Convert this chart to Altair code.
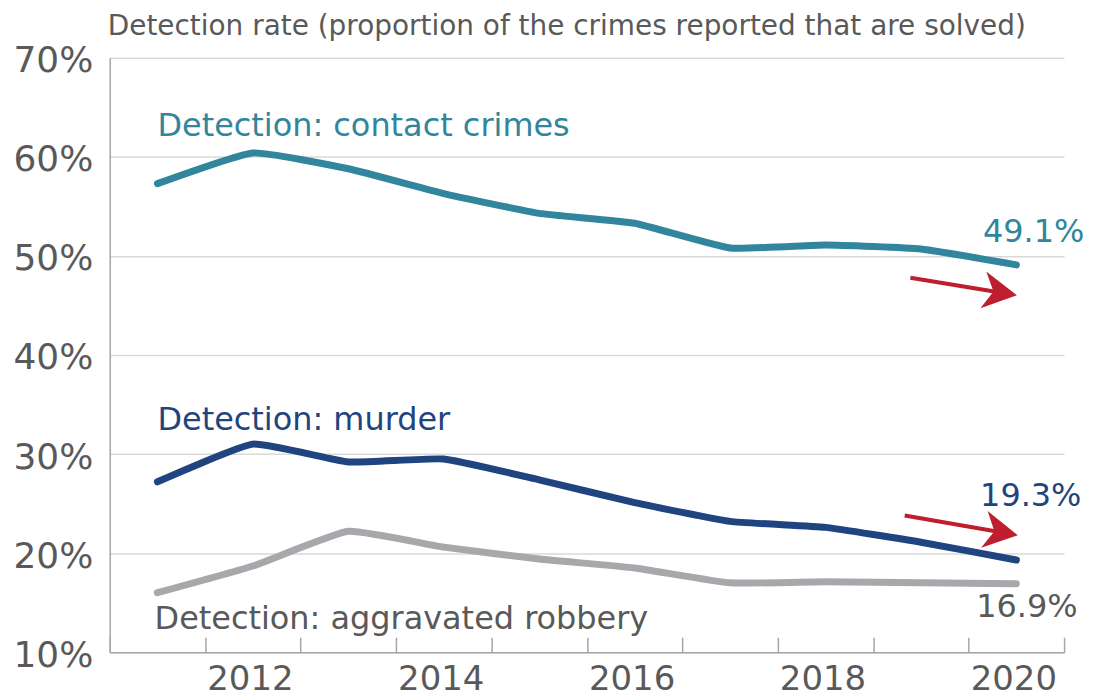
import altair as alt
import pandas as pd

# ---- data ----
years = list(range(2011, 2021))
contact = [57.3, 60.4, 58.8, 56.3, 54.3, 53.3, 50.8, 51.1, 50.7, 49.1]
murder = [27.2, 31.0, 29.2, 29.5, 27.4, 25.1, 23.2, 22.6, 21.1, 19.3]
robbery = [16.0, 18.7, 22.2, 20.6, 19.4, 18.5, 17.0, 17.1, 17.0, 16.9]

series_names = ["robbery", "murder", "contact"]
series_colors = ["#A6A8AB", "#1F4480", "#31859C"]

label_years = [2012, 2014, 2016, 2018, 2020]
tick_positions = [2010.5 + i for i in range(11)]
y_ticks = [10, 20, 30, 40, 50, 60, 70]

ann_text = ["Detection: contact crimes", "Detection: murder",
            "Detection: aggravated robbery", "49.1%", "19.3%", "16.9%"]
ann_x = [2011.0, 2011.0, 2010.97, 2019.65, 2019.62, 2019.58]
ann_y = [62.1, 32.4, 12.3, 51.4, 24.8, 13.5]
ann_color = ["#31859C", "#1F4480", "#595959", "#31859C", "#1F4480", "#595959"]

arrow_x0 = [2018.89, 2018.83]
arrow_y0 = [47.8, 23.8]
arrow_x1 = [2019.83, 2019.84]
arrow_y1 = [46.3, 22.1]
arrow_angle = [9, 10]

TITLE = "Detection rate (proportion of the crimes reported that are solved)"
FONT = "DejaVu Sans"
GRAY_TEXT = "#595959"
RED = "#BE1E2D"

# ---- tables ----
rows = []
for name, vals in zip(["contact", "murder", "robbery"], [contact, murder, robbery]):
    for yr, v in zip(years, vals):
        rows.append({"year": yr, "value": v, "series": name})
df = pd.DataFrame(rows)

ann_df = pd.DataFrame({"text": ann_text, "x": ann_x, "y": ann_y, "color": ann_color})
arrow_df = pd.DataFrame({"x0": arrow_x0, "y0": arrow_y0, "x1": arrow_x1,
                         "y1": arrow_y1, "angle": arrow_angle})

x_scale = alt.Scale(domain=[2010.5, 2020.5], nice=False, zero=False)
y_scale = alt.Scale(domain=[10, 70], nice=False, zero=False)

lines = alt.Chart(df).mark_line(
    strokeWidth=7, strokeCap="round", strokeJoin="round",
    interpolate="cardinal", tension=0.6
).encode(
    x=alt.X("year:Q", scale=x_scale, axis=alt.Axis(
        values=label_years, format="d", title=None, tickSize=0, ticks=False,
        labelPadding=10, labelFontSize=34, labelColor=GRAY_TEXT, labelFont=FONT,
        labelOffset=-3, domainColor="#A6A6A6", domainWidth=1.5, grid=False,
        labelFlush=False, orient="bottom")),
    y=alt.Y("value:Q", scale=y_scale, axis=alt.Axis(
        values=y_ticks, labelExpr="datum.value + '%'", title=None,
        ticks=False, tickSize=0, labelPadding=17, labelFontSize=36,
        labelColor=GRAY_TEXT, labelFont=FONT, labelOffset=3,
        domainColor="#A6A6A6", domainWidth=1.5,
        grid=True, gridColor="#D9D9D9", gridWidth=1.5)),
    color=alt.Color("series:N", scale=alt.Scale(domain=series_names, range=series_colors),
                    legend=None),
    order=alt.Order("year:Q"),
)

shafts = alt.Chart(arrow_df).mark_rule(strokeWidth=4, color=RED).encode(
    x=alt.X("x0:Q", scale=x_scale, axis=alt.Axis(
        orient="top", offset=-596, values=tick_positions, labels=False,
        domain=False, ticks=True, tickSize=15, tickColor="#A6A6A6",
        tickWidth=1.5, grid=False, title=None)),
    y=alt.Y("y0:Q", scale=y_scale, axis=None),
    x2="x1:Q",
    y2="y1:Q",
)

heads = alt.Chart(arrow_df).mark_point(
    shape="M1,0 L-1,-1.1 L-0.4,0 L-1,1.1 Z", filled=True, size=1156,
    color=RED, opacity=1, strokeWidth=0
).encode(
    x=alt.X("x1:Q", scale=x_scale, axis=None),
    y=alt.Y("y1:Q", scale=y_scale, axis=None),
    angle=alt.Angle("angle:Q", scale=None),
)

labels = alt.Chart(ann_df).mark_text(
    align="left", baseline="alphabetic", fontSize=32, font=FONT
).encode(
    x=alt.X("x:Q", scale=x_scale, axis=None),
    y=alt.Y("y:Q", scale=y_scale, axis=None),
    text="text:N",
    color=alt.Color("color:N", scale=None),
)

chart = alt.layer(lines, shafts, heads, labels).resolve_axis(
    x="independent", y="independent"
).properties(
    width=957, height=596,
    padding={"left": 102, "top": 49, "right": 22, "bottom": 45},
    autosize=alt.AutoSizeParams(type="none"),
    title=alt.TitleParams(TITLE, anchor="start", frame="group", fontSize=28,
                          color=GRAY_TEXT, font=FONT, fontWeight="normal",
                          offset=2, dx=-2),
).configure_view(stroke=None).configure_title(
    fontSize=28, font=FONT, color=GRAY_TEXT, fontWeight="normal"
)

chart.save("out.html", embed_options={"renderer": "svg", "actions": False})
